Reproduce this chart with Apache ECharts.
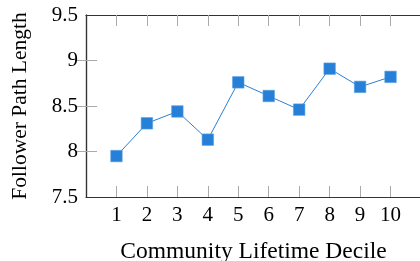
<!DOCTYPE html>
<html>
<head>
<meta charset="utf-8">
<script src="https://cdn.jsdelivr.net/npm/echarts@6/dist/echarts.min.js"></script>
<style>
html,body{margin:0;padding:0;background:#fff;}
#c{width:420px;height:261px;}
</style>
</head>
<body>
<div id="c"></div>
<script>
var deciles = [1, 2, 3, 4, 5, 6, 7, 8, 9, 10];
var pathLength = [7.95, 8.31, 8.44, 8.13, 8.76, 8.61, 8.46, 8.91, 8.71, 8.82];
var yTicks = [7.5, 8, 8.5, 9, 9.5];
var yInnerTicks = [8, 8.5, 9];
var xTitle = 'Community Lifetime Decile';
var yTitle = 'Follower Path Length';

var FONT = '"Liberation Serif", serif';
var frame = { show: true, lineStyle: { color: '#333333', width: 1.2 } };
function ticks(vals) {
  return { show: true, inside: true, length: 11, customValues: vals, lineStyle: { color: '#aaaaaa', width: 1 } };
}

var chart = echarts.init(document.getElementById('c'), null, { renderer: 'canvas' });
chart.setOption({
  animation: false,
  backgroundColor: '#ffffff',
  grid: { left: 86, right: -1, top: 15, bottom: 64, containLabel: false, outerBoundsMode: 'none' },
  xAxis: [{
    type: 'value', min: 0, max: 11, interval: 1, position: 'bottom',
    axisLine: frame, axisTick: ticks(deciles), splitLine: { show: false },
    axisLabel: {
      margin: 8, color: '#000', fontFamily: FONT, fontSize: 21, customValues: deciles
    },
    name: xTitle, nameLocation: 'middle', nameGap: 43,
    nameTextStyle: { color: '#000', fontFamily: FONT, fontSize: 23.5 }
  }, {
    type: 'value', min: 0, max: 11, interval: 1, position: 'top',
    axisLine: frame, axisTick: ticks(deciles), axisLabel: { show: false }, splitLine: { show: false }
  }],
  yAxis: [{
    type: 'value', min: yTicks[0], max: yTicks[yTicks.length - 1], interval: 0.5, position: 'left',
    axisLine: frame, axisTick: ticks(yInnerTicks), splitLine: { show: false },
    axisLabel: { margin: 8, color: '#000', fontFamily: FONT, fontSize: 21, customValues: yTicks },
    name: yTitle, nameLocation: 'middle', nameGap: 55, nameRotate: 90,
    nameTextStyle: { color: '#000', fontFamily: FONT, fontSize: 21.5 }
  }, {
    type: 'value', min: yTicks[0], max: yTicks[yTicks.length - 1], interval: 0.5, position: 'right',
    axisLine: frame, axisTick: ticks(yInnerTicks), axisLabel: { show: false }, splitLine: { show: false }
  }],
  series: [{
    type: 'line',
    data: deciles.map(function (d, i) { return [d, pathLength[i]]; }),
    symbol: 'rect', symbolSize: 11.5,
    lineStyle: { color: '#2a80d8', width: 1 },
    itemStyle: { color: '#2680d8', borderColor: '#5aa0e4', borderWidth: 0.6 },
    z: 3
  }]
});
</script>
</body>
</html>
